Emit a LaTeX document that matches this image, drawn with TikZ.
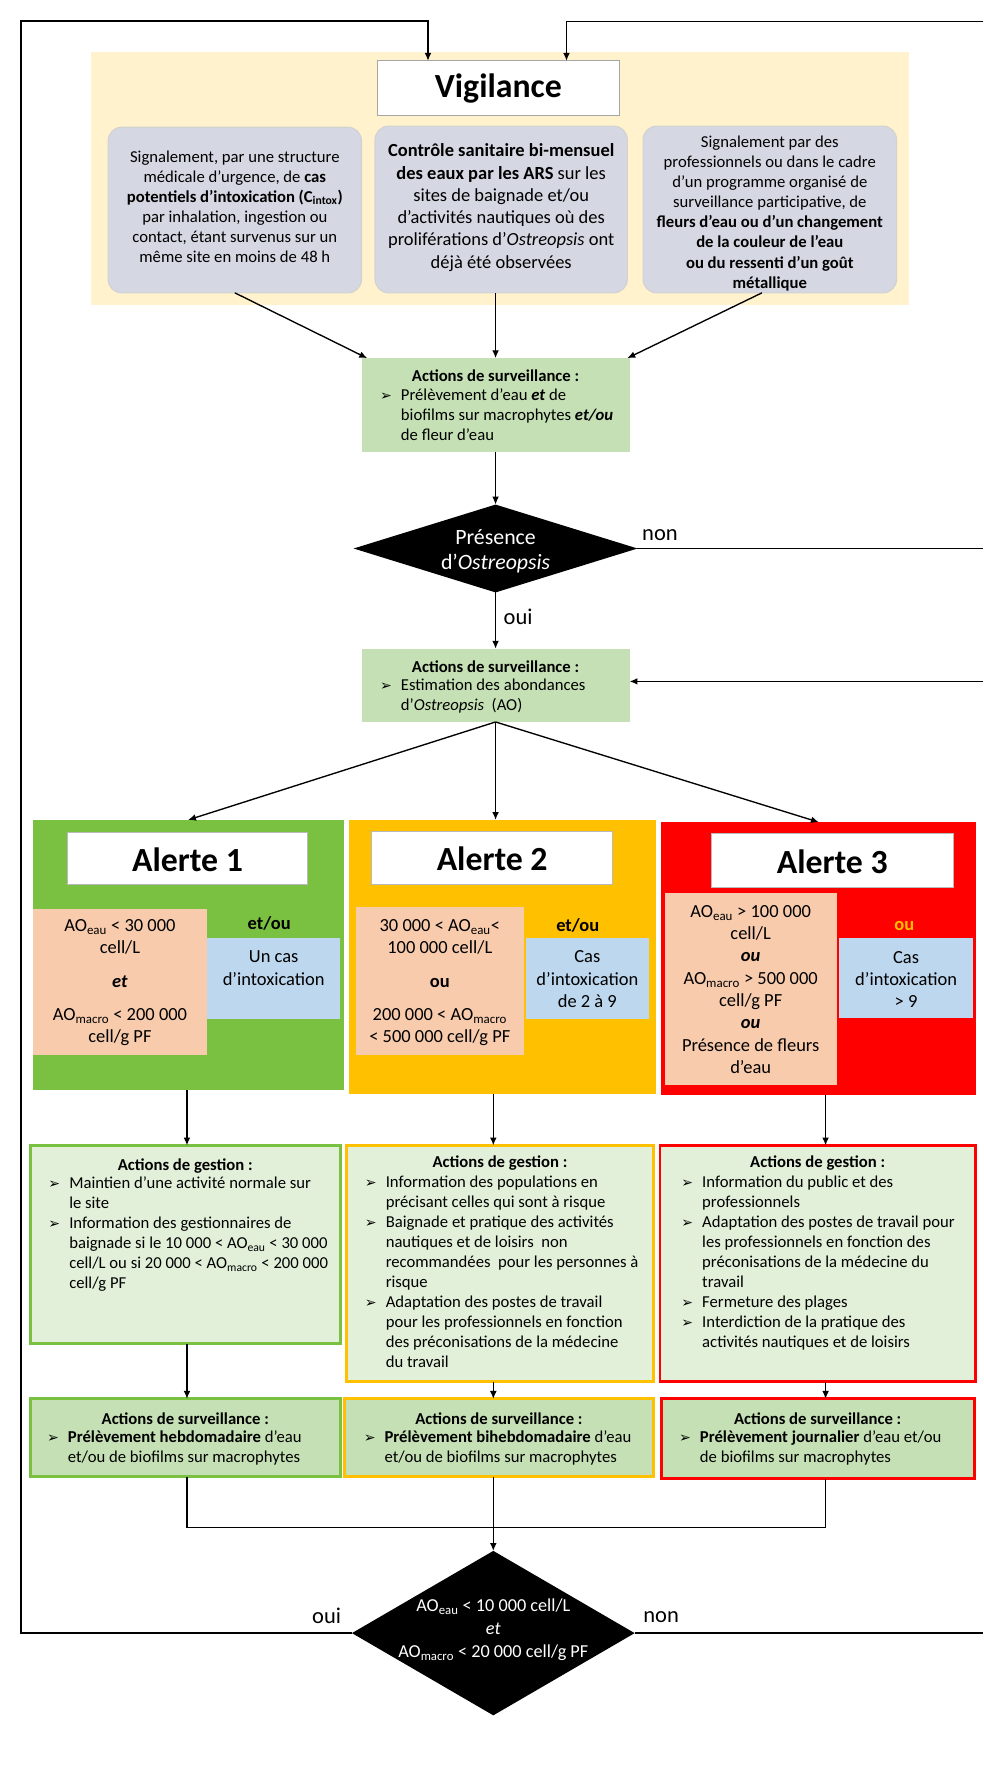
\documentclass[tikz,border=0pt]{standalone}
\usepackage{fontspec}
\setmainfont{Carlito}
\newfontfamily\dejavu{DejaVu Sans}
\usetikzlibrary{shapes.geometric,arrows.meta}
\definecolor{ybg}{RGB}{255,242,204}
\definecolor{grayb}{RGB}{213,216,226}
\definecolor{lgreen}{RGB}{197,224,180}
\definecolor{vlgreen}{RGB}{226,239,217}
\definecolor{agreen}{RGB}{122,193,66}
\definecolor{aorange}{RGB}{255,192,0}
\definecolor{ared}{RGB}{255,0,0}
\definecolor{salmon}{RGB}{248,203,173}
\definecolor{lblue}{RGB}{189,215,238}
\newcommand\fA{\fontsize{14.8}{17.8}\selectfont}
\newcommand\fB{\fontsize{16.4}{19.8}\selectfont}
\newcommand\fT{\fontsize{30}{36}\selectfont\bfseries}
\newcommand\fD{\fontsize{19.4}{22.8}\selectfont}
\newcommand\fE{\fontsize{16.2}{20.5}\selectfont}
\newcommand\fL{\fontsize{20}{24}\selectfont}
\newcommand\bul{\makebox[18.5pt][l]{\dejavu\fontsize{12.5}{12.5}\selectfont ➢}}
\newcommand\ind{\kern18.5pt\relax}
\begin{document}
\begin{tikzpicture}[x=1pt,y=-1pt,
  box/.style={rectangle,draw=none,inner sep=0,outer sep=0},
  arr/.style={-{Latex[length=7pt,width=6pt]},line width=1.2pt},
  ln/.style={line width=1.2pt},
  txt/.style={inner sep=0,outer sep=0,align=center},
  lst/.style={inner sep=0,outer sep=0,anchor=base west},
  gest/.style={box,line width=2.6pt,fill=vlgreen},
  surv/.style={box,line width=2.6pt,fill=lgreen},
  grb/.style={box,fill=grayb,draw=gray!35,line width=1pt,rounded corners=12pt},
  ttl/.style={box,fill=white,draw=gray!55,line width=0.6pt}]
\useasboundingbox (0,0) rectangle (873,1568);
\fill[white] (0,0) rectangle (873,1568);

% coordinates
\coordinate (RT) at (873,19);
\coordinate (R2) at (873,605);
\coordinate (LB) at (18.5,1450);
\coordinate (LT) at (18.5,18.5);
\coordinate (X1) at (166,0);
\coordinate (X2) at (438,0);
\coordinate (X3) at (733,0);
\coordinate (J) at (0,1356);

% vigilance block
\node[box,fill=ybg,minimum width=726pt,minimum height=225pt] (ybg) at (444,158.5) {};
\node[box,fill=white,draw=gray!70,line width=0.6pt,minimum width=215pt,minimum height=48pt] (vig) at (442.5,78) {};
\node[txt,font=\fT] (vigt) at (442.5,79) {Vigilance};
\node[grb,minimum width=225pt,minimum height=147pt] (g1) at (208.5,186.5) {};
\node[grb,minimum width=224pt,minimum height=148pt] (g2) at (445,186) {};
\node[grb,minimum width=225pt,minimum height=148pt] (g3) at (683.5,186) {};
\node[txt,font=\fA] (g1t) at (208.5,183.5) {Signalement, par une structure\\médicale d’urgence, de \textbf{cas}\\\textbf{potentiels d’intoxication (C\textsubscript{intox})}\\par inhalation, ingestion ou\\contact, étant survenus sur un\\même site en moins de 48 h};
\node[txt,font=\fB] (g2t) at (445,184.3) {\textbf{Contrôle sanitaire bi-mensuel}\\\textbf{des eaux par les ARS} sur les\\sites de baignade et/ou\\d’activités nautiques où des\\proliférations d’\textit{Ostreopsis} ont\\déjà été observées};
\node[txt,font=\fA] (g3t) at (683.5,189.5) {Signalement par des\\professionnels ou dans le cadre\\d’un programme organisé de\\surveillance participative, de\\\textbf{fleurs d’eau ou d’un changement}\\\textbf{de la couleur de l’eau}\\\textbf{ou du ressenti d’un goût}\\\textbf{métallique}};

% first surveillance
\node[box,fill=lgreen,minimum width=238pt,minimum height=83pt] (s1) at (440,359.5) {};
\node[txt,font=\fA\bfseries] (s1t) at (440,334) {Actions de surveillance :};
\node[lst] (s1b) at (337.5,355.4) {\vtop{\fA
  \hbox{\bul Prélèvement d’eau \textbf{\textit{et}} de}
  \hbox{\ind biofilms sur macrophytes \textbf{\textit{et/ou}}}
  \hbox{\ind de fleur d’eau}}};

% diamond 1
\node[diamond,fill=black,inner sep=0,outer sep=0,minimum width=252pt,minimum height=78pt] (d1) at (440,487) {};
\node[txt,font=\fD,text=white] (d1t) at (440,489.5) {Présence\\d’\textit{Ostreopsis}};
\node[inner sep=0,anchor=west,font=\fL] (non1) at (570,475) {non};
\node[inner sep=0,anchor=west,font=\fL] (oui1) at (447,548) {oui};

% second surveillance
\node[box,fill=lgreen,minimum width=238pt,minimum height=65pt] (s2) at (440,608.5) {};
\node[txt,font=\fA\bfseries] (s2t) at (440,592) {Actions de surveillance :};
\node[lst] (s2b) at (337.5,613.4) {\vtop{\fA
  \hbox{\bul Estimation des abondances}
  \hbox{\ind d’\textit{Ostreopsis}\ \ (AO)}}};

% alert panels
\node[box,fill=agreen,minimum width=276pt,minimum height=240pt] (P1) at (167,848) {};
\node[box,fill=aorange,minimum width=272pt,minimum height=243pt] (P2) at (446,849.5) {};
\node[box,fill=ared,minimum width=280pt,minimum height=242pt] (P3) at (727,851) {};
\node[ttl,minimum width=213pt,minimum height=46pt] (T1) at (166.5,762) {};
\node[ttl,minimum width=214pt,minimum height=47pt] (T2) at (437,761.5) {};
\node[ttl,minimum width=214pt,minimum height=48pt] (T3) at (739,764) {};
\node[txt,font=\fT] (T1t) at (166.5,763) {Alerte 1};
\node[txt,font=\fT] (T2t) at (437,762.5) {Alerte 2};
\node[txt,font=\fT] (T3t) at (739,765) {Alerte 3};
\node[box,fill=salmon,minimum width=155pt,minimum height=130pt] (Sa1) at (106.5,872) {};
\node[box,fill=salmon,minimum width=149pt,minimum height=132pt] (Sa2) at (390.5,871) {};
\node[box,fill=salmon,minimum width=153pt,minimum height=170pt] (Sa3) at (666.5,878) {};
\node[box,fill=lblue,minimum width=118pt,minimum height=72pt] (B1) at (243,869) {};
\node[box,fill=lblue,minimum width=109pt,minimum height=72pt] (B2) at (521.5,869) {};
\node[box,fill=lblue,minimum width=119pt,minimum height=71pt] (B3) at (804.5,868.5) {};
\node[txt,font=\fB] (Sa1t) at (106.5,872.5) {AO\textsubscript{eau} < 30 000\\cell/L\\[10pt]\textbf{\textit{et}}\\[10pt]AO\textsubscript{macro} < 200 000\\cell/g PF};
\node[txt,font=\fB] (Sa2t) at (390.5,872.5) {30 000 < AO\textsubscript{eau}<\\100 000 cell/L\\[10pt]\textbf{ou}\\[10pt]200 000 < AO\textsubscript{macro}\\< 500 000 cell/g PF};
\node[txt,font=\fB] (Sa3t) at (666.5,878.5) {AO\textsubscript{eau} > 100 000\\cell/L\\\textbf{\textit{ou}}\\AO\textsubscript{macro} > 500 000\\cell/g PF\\\textbf{\textit{ou}}\\Présence de fleurs\\d’eau};
\node[txt,font=\fB] (B1t) at (243,859.5) {Un cas\\d’intoxication};
\node[txt,font=\fB] (B2t) at (521.5,869.5) {Cas\\d’intoxication\\de 2 à 9};
\node[txt,font=\fB] (B3t) at (804.5,869.5) {Cas\\d’intoxication\\> 9};
\node[txt,font=\fB\bfseries] (eo1) at (239,820) {et/ou};
\node[txt,font=\fB\bfseries] (eo2) at (513,822) {et/ou};
\node[txt,font=\fB\bfseries,text=aorange] (eo3) at (803,822) {ou};

% gestion boxes
\node[gest,draw=agreen,minimum width=275pt,minimum height=176pt] (G1) at (164.5,1105) {};
\node[gest,draw=aorange,minimum width=272pt,minimum height=210pt] (G2) at (444,1122) {};
\node[gest,draw=ared,minimum width=280pt,minimum height=210pt] (G3) at (726,1122) {};
\node[txt,font=\fA\bfseries] (G1t) at (164.5,1035) {Actions de gestion :};
\node[txt,font=\fA\bfseries] (G2t) at (444,1033) {Actions de gestion :};
\node[txt,font=\fA\bfseries] (G3t) at (726,1033) {Actions de gestion :};
\node[lst] (G1b) at (43,1055.4) {\vtop{\fA
  \hbox{\bul Maintien d’une activité normale sur}
  \hbox{\ind le site}
  \hbox{\bul Information des gestionnaires de}
  \hbox{\ind baignade si le 10 000 < AO\textsubscript{eau} < 30 000}
  \hbox{\ind cell/L ou si 20 000 < AO\textsubscript{macro} < 200 000}
  \hbox{\ind cell/g PF}}};
\node[lst] (G2b) at (324,1054.4) {\vtop{\fA
  \hbox{\bul Information des populations en}
  \hbox{\ind précisant celles qui sont à risque}
  \hbox{\bul Baignade et pratique des activités}
  \hbox{\ind nautiques et de loisirs\ \ non}
  \hbox{\ind recommandées\ \ pour les personnes à}
  \hbox{\ind risque}
  \hbox{\bul Adaptation des postes de travail}
  \hbox{\ind pour les professionnels en fonction}
  \hbox{\ind des préconisations de la médecine}
  \hbox{\ind du travail}}};
\node[lst] (G3b) at (605,1054.4) {\vtop{\fA
  \hbox{\bul Information du public et des}
  \hbox{\ind professionnels}
  \hbox{\bul Adaptation des postes de travail pour}
  \hbox{\ind les professionnels en fonction des}
  \hbox{\ind préconisations de la médecine du}
  \hbox{\ind travail}
  \hbox{\bul Fermeture des plages}
  \hbox{\bul Interdiction de la pratique des}
  \hbox{\ind activités nautiques et de loisirs}}};

% surveillance boxes
\node[surv,draw=agreen,minimum width=275pt,minimum height=69pt] (V1) at (164.5,1276.5) {};
\node[surv,draw=aorange,minimum width=274pt,minimum height=69pt] (V2) at (443,1276.5) {};
\node[surv,draw=ared,minimum width=278pt,minimum height=71pt] (V3) at (726,1277.5) {};
\node[txt,font=\fA\bfseries] (V1t) at (164.5,1260) {Actions de surveillance :};
\node[txt,font=\fA\bfseries] (V2t) at (443,1260) {Actions de surveillance :};
\node[txt,font=\fA\bfseries] (V3t) at (726,1260) {Actions de surveillance :};
\node[lst] (V1b) at (41.8,1280.4) {\vtop{\fA
  \hbox{\bul \textbf{Prélèvement hebdomadaire} d’eau}
  \hbox{\ind et/ou de biofilms sur macrophytes}}};
\node[lst] (V2b) at (323,1280.4) {\vtop{\fA
  \hbox{\bul \textbf{Prélèvement bihebdomadaire} d’eau}
  \hbox{\ind et/ou de biofilms sur macrophytes}}};
\node[lst] (V3b) at (603,1280.4) {\vtop{\fA
  \hbox{\bul \textbf{Prélèvement journalier} d’eau et/ou}
  \hbox{\ind de biofilms sur macrophytes}}};

% diamond 2
\node[diamond,fill=black,inner sep=0,outer sep=0,minimum width=251pt,minimum height=146pt] (d2) at (438,1450) {};
\node[txt,font=\fE,text=white] (d2t) at (438,1447) {AO\textsubscript{eau} < 10 000 cell/L\\\textit{et}\\AO\textsubscript{macro} < 20 000 cell/g PF};
\node[inner sep=0,anchor=west,font=\fL] (oui2) at (277,1435) {oui};
\node[inner sep=0,anchor=west,font=\fL] (non2) at (571,1436) {non};

% connectors
\draw[arr] (d2.west) -- (LB) -- (LT) -| ([xshift=-62.5pt]vig.north);
\draw[arr] (RT) -| ([xshift=60.5pt]vig.north);
\draw[arr] (g1.south) -- ([xshift=5pt]s1.north west);
\draw[arr] (g2.south -| s1.north) -- (s1.north);
\draw[arr] ([xshift=-7pt]g3.south) -- ([xshift=-2pt]s1.north east);
\draw[arr] (s1.south) -- (d1.north);
\draw[ln] (d1.east) -- (d1.east -| RT);
\draw[arr] (d1.south) -- (s2.north);
\draw[arr] (R2) -- (s2.east |- R2);
\draw[arr] (s2.south) -- (P1.north);
\draw[arr] (s2.south) -- (s2.south |- P2.north);
\draw[arr] (s2.south) -- (P3.north);
\draw[arr] (P1.south -| X1) -- (G1.north -| X1);
\draw[arr] (P2.south -| X2) -- (G2.north -| X2);
\draw[arr] (P3.south -| X3) -- (G3.north -| X3);
\draw[arr] (G1.south -| X1) -- (V1.north -| X1);
\draw[arr] (G2.south -| X2) -- (V2.north -| X2);
\draw[arr] (G3.south -| X3) -- (V3.north -| X3);
\draw[ln] (V1.south -| X1) -- (X1 |- J) -- (X3 |- J) -- (V3.south -| X3);
\draw[arr] (V2.south -| X2) -- (d2.north);
\draw[ln] (d2.east) -- (d2.east -| RT);
\end{tikzpicture}
\end{document}
